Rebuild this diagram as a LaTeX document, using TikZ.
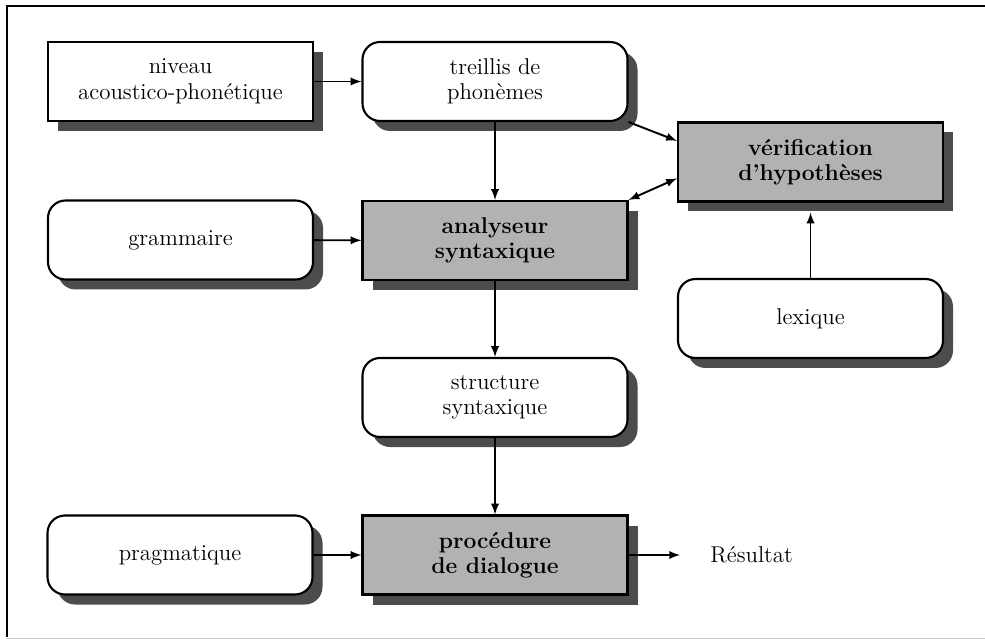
\documentclass[tikz,border=0pt]{standalone}
\usepackage{tikz}
\usetikzlibrary{shadows}
\newcommand{\nfont}{\fontsize{13}{14.5}\selectfont}
\tikzset{
    SH/.style={drop shadow={shadow xshift=0.2cm,shadow yshift=-0.2cm,fill=black!70,opacity=1}},
    RA1/.style ={rectangle,minimum width = 5.3cm, minimum height =1.58cm, draw, line width=1.2pt, fill=white, align=center, font=\nfont, SH},
    RA2/.style ={rectangle,minimum width = 5.3cm, minimum height =1.58cm, draw, line width=1.2pt, fill=black!30, align=center, font=\nfont\bfseries, SH},
    RB1/.style ={rectangle,rounded corners=0.35cm,minimum width = 5.3cm, minimum height =1.58cm, draw, line width=1.2pt, fill=white, align=center, font=\nfont, SH},
    AR/.style={-latex,line width=1.1pt}}

\begin{document}
\begin{tikzpicture}
        \useasboundingbox (0,0) rectangle (19.7,-12.8);
        % cadre
        \draw[line width=1.2pt] (0.14,-12.74) -- (0.14,-0.12) -- (19.7,-0.12);
        \draw[gray!40] (0.14,-12.76) -- (19.7,-12.76);
        % boites
        \node[RA1] (1) at(3.61,-1.63){niveau\\acoustico-phonétique};
        \node[RB1] (2) at(9.9,-1.63){treillis de\\phonèmes};
        \node[RA2] (3) at(16.21,-3.24){vérification\\d'hypothèses};
        \node[RB1] (4) at(3.61,-4.8){grammaire};
        \node[RA2] (5) at(9.9,-4.81){analyseur\\syntaxique};
        \node[RB1] (6) at(16.21,-6.37){lexique};
        \node[RB1] (7) at(9.9,-7.95){structure\\syntaxique};
        \node[RB1] (8) at(3.6,-11.1){pragmatique};
        \node[RA2] (9) at(9.9,-11.1){procédure\\de dialogue};
        \node[anchor=west,font=\nfont,inner sep=0.1cm] (10) at(14.1,-11.1){Résultat};
        % fleches
        \draw[AR] (1) -- (2);
        \draw[AR] (2) -- (5);
        \draw[AR] (2.south east) -- (3.171);
        \draw[latex-latex,line width=1.1pt] (5.north east) -- (3.-173);
        \draw[AR] (4) -- (5);
        \draw[AR,shorten >=0.2cm] (6) -- (3);
        \draw[AR] (5) -- (7);
        \draw[AR] (7) -- (9);
        \draw[AR] (8) -- (9);
        \draw[AR,shorten >=0.5cm] (9) -- (10);
    \end{tikzpicture}
\end{document}
